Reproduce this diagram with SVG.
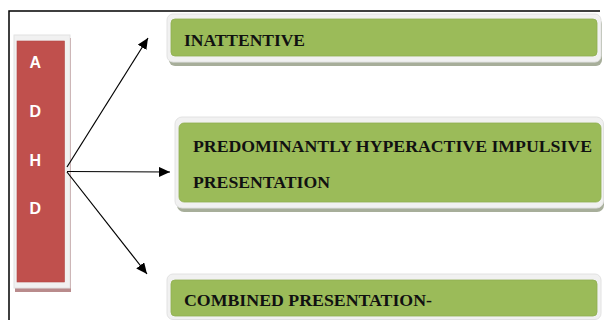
<svg xmlns="http://www.w3.org/2000/svg" width="604" height="320" viewBox="0 0 604 320">
<style>
.frame{fill:#f1f1f1;stroke:#e2e2e2;stroke-width:1}
.gshadow{fill:#a7ae9a}
.green{fill:#9bbb59;stroke:#8fae50;stroke-width:0.8}
.gtext{font-family:"Liberation Serif","Times New Roman",serif;font-weight:bold;font-size:17.6px;fill:#111}
.letter{font-family:"Liberation Sans",Arial,sans-serif;font-weight:bold;font-size:16px;fill:#fff}
.conn{stroke:#000;stroke-width:1.2;fill:none;marker-end:url(#ah)}
</style>
<defs>
<marker id="ah" markerUnits="userSpaceOnUse" markerWidth="11" markerHeight="10" refX="11" refY="5" orient="auto">
<path d="M0,0 L11,5 L0,10 z" fill="#000"/>
</marker>
</defs>
<rect width="604" height="320" fill="#fff"/>
<path d="M9,320 V11 H600" stroke="#000" stroke-width="1.5" fill="none"/>
<g id="adhd">
<rect x="15" y="38" width="56" height="254" fill="#b98b8c"/>
<rect class="frame" x="14" y="35" width="56" height="253"/>
<rect x="17" y="41" width="47.5" height="241" fill="#c0504d" stroke="#b34845" stroke-width="0.6"/>
<text class="letter" x="29.5" y="68">A</text>
<text class="letter" x="29.5" y="117">D</text>
<text class="letter" x="29.5" y="165.5">H</text>
<text class="letter" x="29.5" y="214">D</text>
</g>
<g id="connectors">
<line class="conn" x1="67" y1="167" x2="148" y2="38"/>
<line class="conn" x1="67" y1="171.5" x2="170" y2="172"/>
<line class="conn" x1="67" y1="172" x2="147" y2="274"/>
</g>
<g id="inattentive">
<rect class="gshadow" x="169" y="18" width="433" height="48" rx="6"/>
<rect class="frame" x="167" y="14" width="434" height="48" rx="6"/>
<rect class="green" x="171" y="19" width="426" height="37" rx="4"/>
<text class="gtext" x="184" y="46" textLength="121" lengthAdjust="spacingAndGlyphs">INATTENTIVE</text>
</g>
<g id="hyperactive">
<rect class="gshadow" x="177" y="121" width="427" height="91" rx="7"/>
<rect class="frame" x="175" y="117" width="428.5" height="91" rx="7"/>
<rect class="green" x="179" y="123" width="422" height="79" rx="5"/>
<text class="gtext" x="193" y="152" textLength="399" lengthAdjust="spacingAndGlyphs">PREDOMINANTLY HYPERACTIVE IMPULSIVE</text>
<text class="gtext" x="193" y="188" textLength="137" lengthAdjust="spacingAndGlyphs">PRESENTATION</text>
</g>
<g id="combined">
<rect class="frame" x="167" y="274" width="434" height="45.5" rx="6"/>
<rect class="green" x="171" y="280" width="426" height="36" rx="4"/>
<text class="gtext" x="184" y="306" textLength="248" lengthAdjust="spacingAndGlyphs">COMBINED PRESENTATION-</text>
</g>
</svg>
